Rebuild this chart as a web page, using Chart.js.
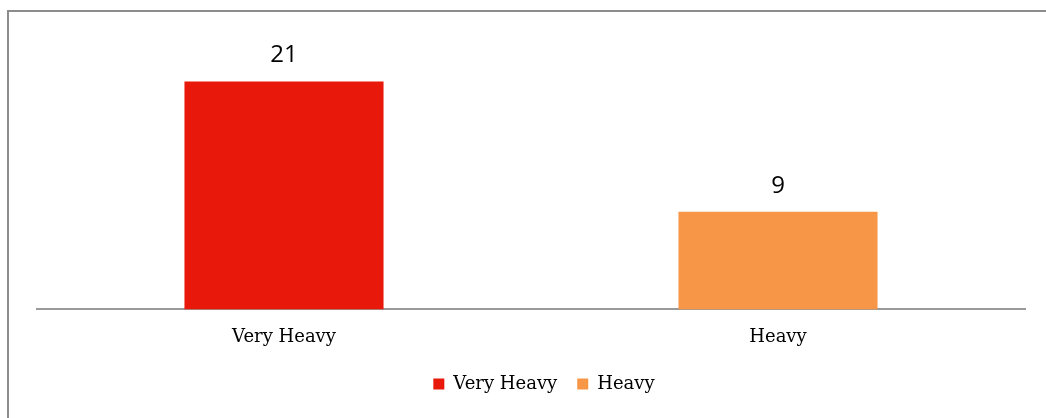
<!DOCTYPE html>
<html>
<head>
<meta charset="utf-8">
<script src="https://cdn.jsdelivr.net/npm/chart.js@4.4.0/dist/chart.umd.min.js"></script>
<style>
  html, body { margin: 0; padding: 0; background: #fff; overflow: hidden; width: 1046px; height: 418px; }
  #frame { position: absolute; left: 7px; top: 10px; width: 1200px; height: 600px; border-left: 2px solid #8c8c8c; border-top: 2px solid #8c8c8c; }
  #c { position: absolute; left: 0; top: 0; }
</style>
</head>
<body>
<div id="frame"></div>
<canvas id="c" width="1046" height="418"></canvas>
<script>
const categories = ["Very Heavy", "Heavy"];
const values = [21, 9];
const barColors = ["#E8190A", "#F79646"];

const serif = "'DejaVu Serif', serif";
const sans = "'Open Sans', sans-serif";

const dataLabels = {
  id: 'dataLabels',
  afterDatasetsDraw(chart) {
    const ctx = chart.ctx;
    const meta = chart.getDatasetMeta(0);
    ctx.save();
    ctx.fillStyle = '#000';
    ctx.font = "24px " + sans;
    ctx.textAlign = 'center';
    ctx.textBaseline = 'middle';
    meta.data.forEach((bar, i) => {
      ctx.fillText(String(values[i]), bar.x, bar.y - 26);
    });
    ctx.restore();
  }
};

const legendShift = {
  id: 'legendShift',
  afterLayout(chart) {
    const lg = chart.legend;
    if (lg) { lg.left += 13; lg.right += 13; lg.top -= 10; lg.bottom -= 10; }
  }
};

new Chart(document.getElementById('c'), {
  type: 'bar',
  data: {
    labels: categories,
    datasets: [{
      data: values,
      backgroundColor: barColors,
      borderWidth: 0,
      barPercentage: 0.403,
      categoryPercentage: 1.0
    }]
  },
  options: {
    responsive: false,
    animation: false,
    layout: { padding: { left: 37, right: 21, top: 38, bottom: 5 } },
    scales: {
      x: {
        grid: { display: false, drawTicks: false },
        border: { display: true, color: '#9a9a9a', width: 2 },
        ticks: { color: '#000', font: { family: serif, size: 18 }, padding: 17 }
      },
      y: { display: false, min: 0, max: 25 }
    },
    plugins: {
      tooltip: { enabled: false },
      legend: {
        position: 'bottom',
        labels: {
          boxWidth: 11, boxHeight: 11, padding: 20,
          color: '#000',
          font: { family: serif, size: 18 },
          generateLabels() {
            return categories.map((c, i) => ({ text: c, fillStyle: barColors[i], strokeStyle: barColors[i], lineWidth: 0, index: i }));
          }
        },
        onClick: () => {}
      }
    }
  },
  plugins: [dataLabels, legendShift]
});
</script>
</body>
</html>
